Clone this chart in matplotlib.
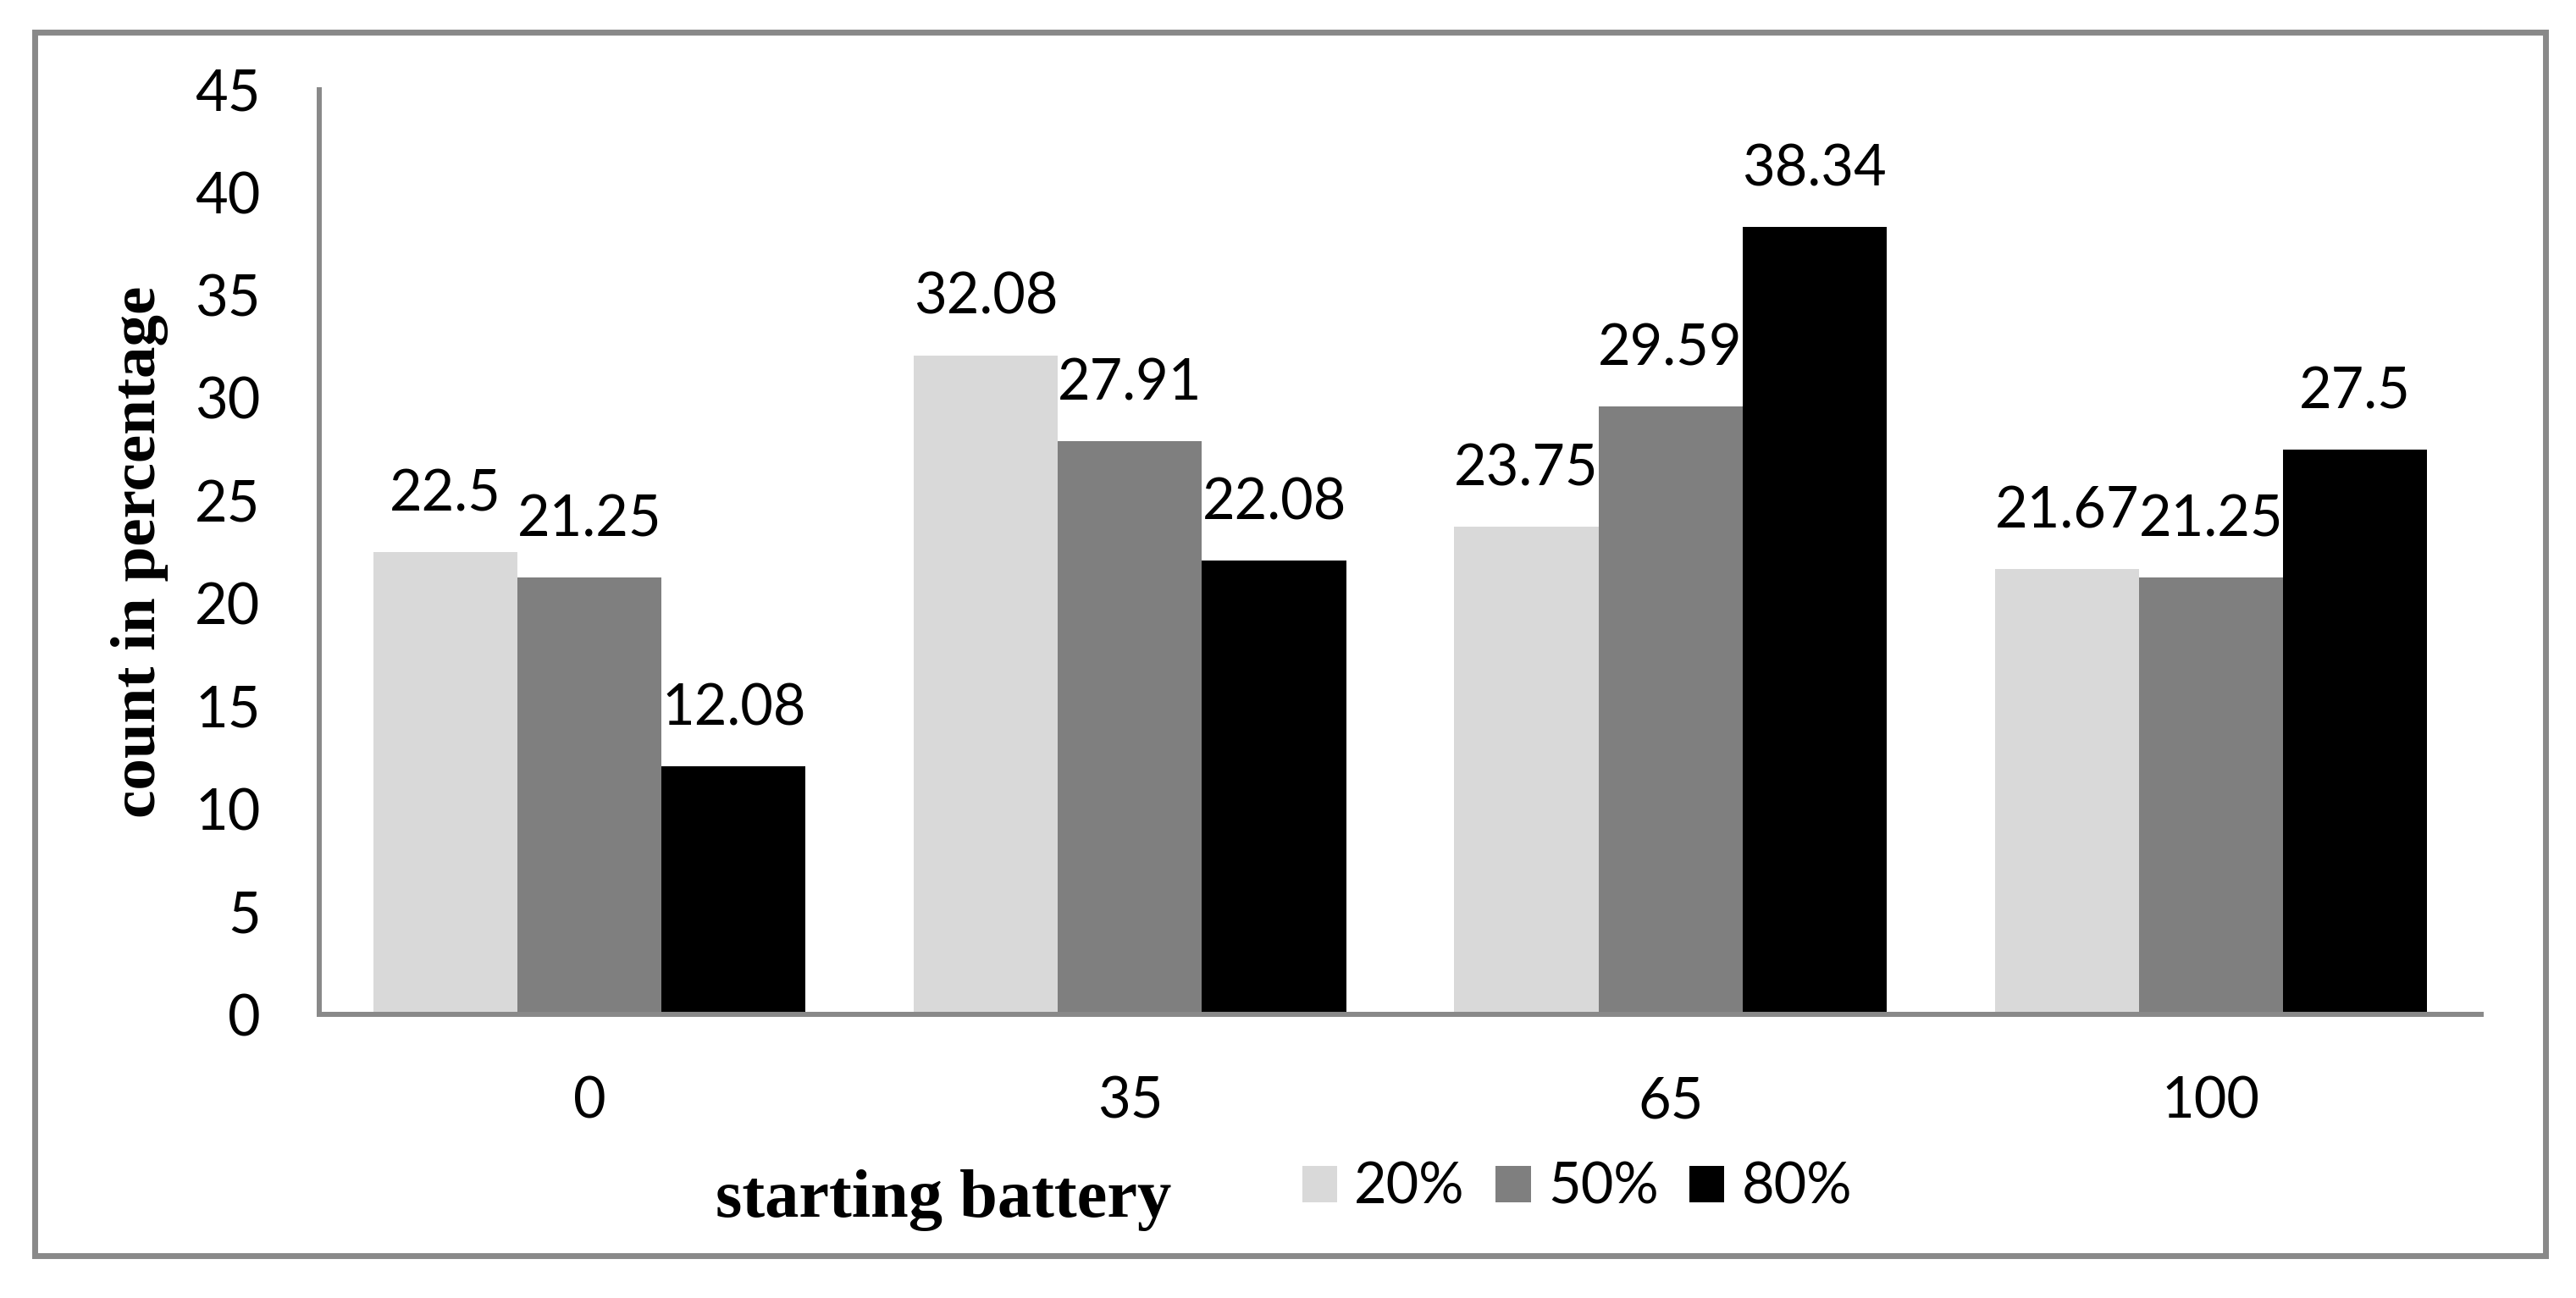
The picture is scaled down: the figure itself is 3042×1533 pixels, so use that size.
import matplotlib
matplotlib.use("Agg")
import matplotlib.pyplot as plt
from matplotlib.patches import Rectangle, Patch
import numpy as np

categories = ["0", "35", "65", "100"]
series_names = ["20%", "50%", "80%"]
values_20 = [22.5, 32.08, 23.75, 21.67]
values_50 = [21.25, 27.91, 29.59, 21.25]
values_80 = [12.08, 22.08, 38.34, 27.5]
label_20 = ["22.5", "32.08", "23.75", "21.67"]
label_50 = ["21.25", "27.91", "29.59", "21.25"]
label_80 = ["12.08", "22.08", "38.34", "27.5"]
yticks = [0, 5, 10, 15, 20, 25, 30, 35, 40, 45]
colors = ["#D9D9D9", "#7F7F7F", "#000000"]
gray = "#898989"

W, H = 3042, 1533
dpi = 100
fig = plt.figure(figsize=(W / dpi, H / dpi), dpi=dpi)
fig.patch.set_facecolor("white")

sans = ["Lato", "DejaVu Sans"]
serif = ["Liberation Serif", "DejaVu Serif"]
fs = 48

ax = fig.add_axes([377 / W, 1 - 1198 / H, (2930 - 377) / W, (1198 - 106) / H])
x = np.arange(len(categories))
bw = 0.8 / 3
all_vals = [values_20, values_50, values_80]
all_labels = [label_20, label_50, label_80]
for i, (vals, labs) in enumerate(zip(all_vals, all_labels)):
    pos = x + (i - 1) * bw
    ax.bar(pos, vals, width=bw, color=colors[i], edgecolor="none", label=series_names[i], zorder=2)
    for p, v, t in zip(pos, vals, labs):
        ax.annotate(t, (p, v), xytext=(0, 35), textcoords="offset points",
                    ha="center", va="baseline", fontsize=fs, family=sans, color="black")

ax.set_xlim(-0.5, 3.5)
ax.set_ylim(0, 45)
ax.set_yticks(yticks)
ax.set_yticklabels([str(t) for t in yticks], fontsize=fs, family=sans)
ax.set_xticks(x)
ax.set_xticklabels(categories, fontsize=fs, family=sans)
ax.tick_params(axis="y", length=0, pad=50)
ax.tick_params(axis="x", length=0, pad=52)
for s in ["top", "right"]:
    ax.spines[s].set_visible(False)
for s in ["left", "bottom"]:
    ax.spines[s].set_color(gray)
    ax.spines[s].set_linewidth(4.3)
    ax.spines[s].set_zorder(3)

ax.set_ylabel("count in percentage", fontsize=54, family=serif, fontweight="bold")
ax.yaxis.set_label_coords((165 - 377) / (2930 - 377), 0.5)
ax.yaxis.label.set_va("center")

fig.text(1114 / W, 1 - 1437 / H, "starting battery", fontsize=58, family=serif,
         fontweight="bold", ha="center", va="baseline")

handles = [Patch(facecolor=c, edgecolor="none") for c in colors]
fig.legend(handles, series_names, loc="center left",
           bbox_to_anchor=(1538 / W, 1 - 1403 / H), ncol=3, frameon=False,
           prop={"family": sans, "size": fs}, borderpad=0, borderaxespad=0,
           handlelength=0.62, handleheight=0.6, handletextpad=0.3, columnspacing=0.55)

frame = Rectangle((41 / W, 1 - 1483 / H), (3006 - 41) / W, (1483 - 38) / H,
                  transform=fig.transFigure, fill=False, edgecolor=gray, linewidth=5)
fig.patches.append(frame)

fig.savefig("out.png", dpi=dpi, facecolor="white")
